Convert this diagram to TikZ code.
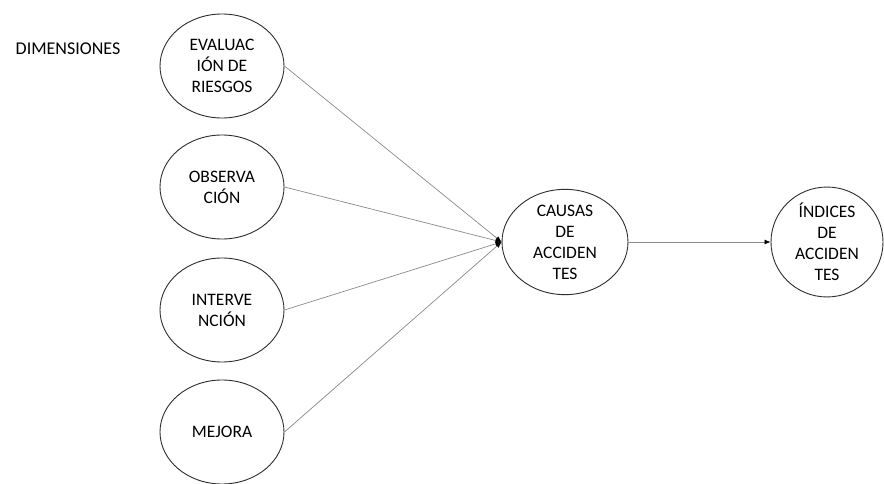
\documentclass[tikz,border=0pt]{standalone}
\usepackage{fontspec}
\setmainfont{Carlito}
\usetikzlibrary{shapes.geometric,arrows.meta}
\definecolor{rim}{HTML}{2E2E2E}
\definecolor{wire}{HTML}{8A8A8A}
\tikzset{
  bubble/.style={ellipse, draw=rim, line width=0.9pt, inner sep=0pt,
    align=center, text=black, font=\fontsize{17.5}{21}\selectfont},
  dimbubble/.style={bubble, minimum width=124pt, minimum height=104pt},
  link/.style={draw=wire, line width=0.7pt,
    -{Latex[length=6pt,width=5pt,color=black]}},
  label/.style={text=black, font=\fontsize{18}{21}\selectfont}
}
\begin{document}
\begin{tikzpicture}[x=1pt,y=-1pt]
  \useasboundingbox (0,0) rectangle (884,484);
  \fill[white] (0,0) rectangle (884,484);

  % heading of the left column
  \node[label] (dim) at (68,49) {DIMENSIONES};

  % the four dimensions
  \node[dimbubble] (eval) at (222,66) {EVALUAC\\IÓN DE\\RIESGOS};
  \node[dimbubble] (obs)  at (222,187) {OBSERVA\\CIÓN};
  \node[dimbubble] (int)  at (222,310) {INTERVE\\NCIÓN};
  \node[dimbubble] (mej)  at (222,432) {MEJORA};

  % causes and indices
  \node[bubble, minimum width=126pt, minimum height=100pt] (cau) at (565,242)
    {CAUSAS\\DE\\ACCIDEN\\TES};
  \node[bubble, minimum width=112pt, minimum height=104pt] (ind) at (827,242)
    {ÍNDICES\\DE\\ACCIDEN\\TES};

  % connectors
  \foreach \src in {eval,obs,int,mej}
    \draw[link] (\src.east) -- (cau.west);
  \draw[link] (cau.east) -- (ind.west);
\end{tikzpicture}
\end{document}
